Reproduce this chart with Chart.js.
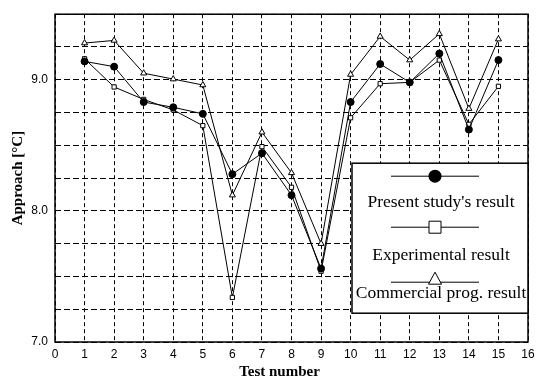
<!DOCTYPE html>
<html>
<head>
<meta charset="utf-8">
<script src="https://cdn.jsdelivr.net/npm/chart.js@4/dist/chart.umd.min.js"></script>
<style>
  html, body { margin: 0; padding: 0; background: #fff; }
  #wrap { width: 545px; height: 381px; }
</style>
</head>
<body>
<div id="wrap"><canvas id="approachChart"></canvas></div>
<script>
// test numbers 1..15
const testNumbers = [1, 2, 3, 4, 5, 6, 7, 8, 9, 10, 11, 12, 13, 14, 15];
const presentStudy = [9.14, 9.10, 8.83, 8.79, 8.74, 8.28, 8.44, 8.12, 7.56, 8.83, 9.12, 8.98, 9.20, 8.62, 9.15];
const experimental = [9.16, 8.945, 8.85, 8.77, 8.65, 7.34, 8.49, 8.18, 7.54, 8.71, 8.97, 8.98, 9.15, 8.66, 8.95];
const commercial = [9.28, 9.30, 9.05, 9.005, 8.96, 8.12, 8.60, 8.29, 7.75, 9.04, 9.33, 9.15, 9.35, 8.78, 9.31];
const seriesLabels = ["Present study's result", "Experimental result", "Commercial prog. result"];
const yTickLabels = ["7.0", "8.0", "9.0"];
const xTitle = "Test number";
const yTitle = "Approach [°C]";

const toPoints = (vals) => vals.map((v, i) => ({ x: testNumbers[i], y: v }));
const serif = "'Liberation Serif', 'Times New Roman', serif";

// box frame drawn solid over the dashed grid
const frame = {
  id: "frame",
  beforeDatasetsDraw(chart) {
    const { ctx, chartArea: a } = chart;
    ctx.save();
    ctx.strokeStyle = "#000";
    ctx.lineWidth = 1.5;
    ctx.strokeRect(a.left, a.top, a.right - a.left, a.bottom - a.top);
    ctx.restore();
  }
};

// x title sits a bit left of centre in the original
const xTitlePlugin = {
  id: "xTitle",
  afterDraw(chart) {
    const { ctx, chartArea: a } = chart;
    ctx.save();
    ctx.fillStyle = "#000";
    ctx.font = "bold 15px " + serif;
    ctx.textAlign = "center";
    ctx.textBaseline = "alphabetic";
    ctx.fillText(xTitle, (a.left + a.right) / 2 - 12, a.bottom + 34);
    ctx.restore();
  }
};

// legend with the marker row above each label, like the original figure
const legendBox = {
  id: "legendBox",
  afterDraw(chart) {
    const { ctx, chartArea: a } = chart;
    const left = a.left + 297, right = a.right, top = a.top + 149, bottom = a.top + 299;
    ctx.save();
    ctx.fillStyle = "#fff";
    ctx.fillRect(left, top, right - left, bottom - top);
    ctx.strokeStyle = "#000";
    ctx.lineWidth = 1.5;
    ctx.strokeRect(left, top, right - left, bottom - top);

    const symX = left + 83;
    const symY = [top + 13, top + 64, top + 119];
    const textY = [top + 44, top + 97, top + 135];
    chart.data.datasets.forEach((ds, i) => {
      ctx.strokeStyle = "#000";
      ctx.lineWidth = 1;
      ctx.beginPath();
      ctx.moveTo(symX - 44, symY[i]);
      ctx.lineTo(symX + 44, symY[i]);
      ctx.stroke();
      ctx.beginPath();
      if (ds.pointStyle === "circle") {
        ctx.fillStyle = "#000";
        ctx.arc(symX, symY[i], 6.5, 0, Math.PI * 2);
        ctx.fill();
      } else if (ds.pointStyle === "rect") {
        ctx.fillStyle = "#fff";
        ctx.rect(symX - 6, symY[i] - 6, 12, 12);
        ctx.fill();
        ctx.stroke();
      } else {
        ctx.fillStyle = "#fff";
        ctx.moveTo(symX, symY[i] - 10);
        ctx.lineTo(symX + 6.5, symY[i] + 2);
        ctx.lineTo(symX - 6.5, symY[i] + 2);
        ctx.closePath();
        ctx.fill();
        ctx.stroke();
      }
      ctx.fillStyle = "#000";
      ctx.font = "17.5px " + serif;
      ctx.textAlign = "center";
      ctx.textBaseline = "alphabetic";
      ctx.fillText(ds.label, left + 89, textY[i]);
    });
    ctx.restore();
  }
};

const mkSet = (label, vals, style, fill, radius) => ({
  label: label,
  data: toPoints(vals),
  borderColor: "#000",
  borderWidth: 1,
  pointStyle: style,
  pointRadius: radius,
  pointBackgroundColor: fill,
  pointBorderColor: "#000",
  pointBorderWidth: 1,
  tension: 0
});

const config = {
  type: "line",
  data: {
    datasets: [
      mkSet(seriesLabels[0], presentStudy, "circle", "#000", 3.5),
      mkSet(seriesLabels[1], experimental, "rect", "#fff", 3),
      mkSet(seriesLabels[2], commercial, "triangle", "#fff", 3.5)
    ]
  },
  options: {
    responsive: true,
    maintainAspectRatio: false,
    animation: false,
    layout: { padding: { top: 9, right: 17, left: 0, bottom: 0 } },
    plugins: { legend: { display: false }, tooltip: { enabled: false } },
    scales: {
      x: {
        type: "linear",
        min: 0,
        max: 16,
        afterFit: (s) => { s.height = 39; },
        ticks: {
          stepSize: 1,
          padding: 5,
          color: "#000",
          font: { family: "'Liberation Sans', Arial, sans-serif", size: 12 }
        },
        grid: { color: "#000", lineWidth: 1, drawTicks: false },
        border: { display: false, dash: [4, 3] },
        title: { display: false }
      },
      y: {
        min: 7.0,
        max: 9.5,
        afterFit: (s) => { s.width = 55; },
        ticks: {
          stepSize: 0.25,
          padding: 7,
          color: "#000",
          font: { family: "'Liberation Sans', Arial, sans-serif", size: 12 },
          callback: (v) => {
            const lbl = v.toFixed(1);
            return yTickLabels.includes(lbl) && Number.isInteger(v) ? lbl : "";
          }
        },
        grid: { color: "#000", lineWidth: 1, drawTicks: false },
        border: { display: false, dash: [6, 3] },
        title: {
          display: true,
          text: yTitle,
          color: "#000",
          padding: { top: 9, bottom: 0 },
          font: { family: serif, size: 15, weight: "bold" }
        }
      }
    }
  },
  plugins: [frame, xTitlePlugin, legendBox]
};

const chart = new Chart(document.getElementById("approachChart"), config);
</script>
</body>
</html>
